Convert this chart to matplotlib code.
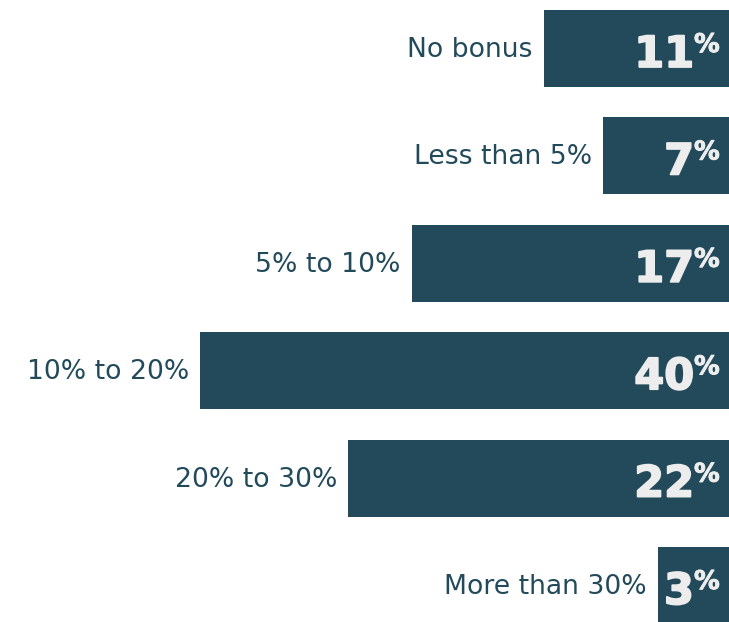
import matplotlib.pyplot as plt
import matplotlib.patheffects as pe

categories = ["No bonus", "Less than 5%", "5% to 10%", "10% to 20%", "20% to 30%", "More than 30%"]
values = [11, 7, 17, 40, 22, 3]
# drawn bar lengths (same scale as 40% = 40)
bar_lengths = [14.0, 9.5, 24.0, 40.0, 28.8, 5.4]

bar_color = "#224a5a"
text_color = "#ededed"

fig = plt.figure(figsize=(7.29, 6.22), dpi=100)
ax = fig.add_axes([0, 0, 1, 1])

ypos = list(range(len(categories)))
ax.barh(ypos, bar_lengths, height=0.717, color=bar_color, left=0)
ax.set_xlim(55.12, 0)
ax.set_ylim(5.34, -0.4516)
ax.axis("off")

thick = [pe.withStroke(linewidth=1.3, foreground=text_color)]

for y, name, length, v in zip(ypos, categories, bar_lengths, values):
    ax.annotate(name, xy=(length, y), xytext=(-11, -8.5), textcoords="offset pixels",
                ha="right", va="baseline", fontsize=19.2, color=bar_color,
                family="DejaVu Sans")
    num = ax.annotate(str(v), xy=(0, y), xytext=(-35, -18.5), textcoords="offset pixels",
                      ha="right", va="baseline", fontsize=31, color=text_color,
                      family="DejaVu Sans", fontweight="bold", path_effects=thick)
    ax.annotate("%", xy=(1, y), xycoords=(num, "data"), xytext=(0, -3.5), textcoords="offset pixels",
                ha="left", va="baseline", fontsize=18.5, color=text_color,
                family="DejaVu Sans", fontweight="bold",
                path_effects=[pe.withStroke(linewidth=0.7, foreground=text_color)])

fig.savefig("out.png", dpi=100)
